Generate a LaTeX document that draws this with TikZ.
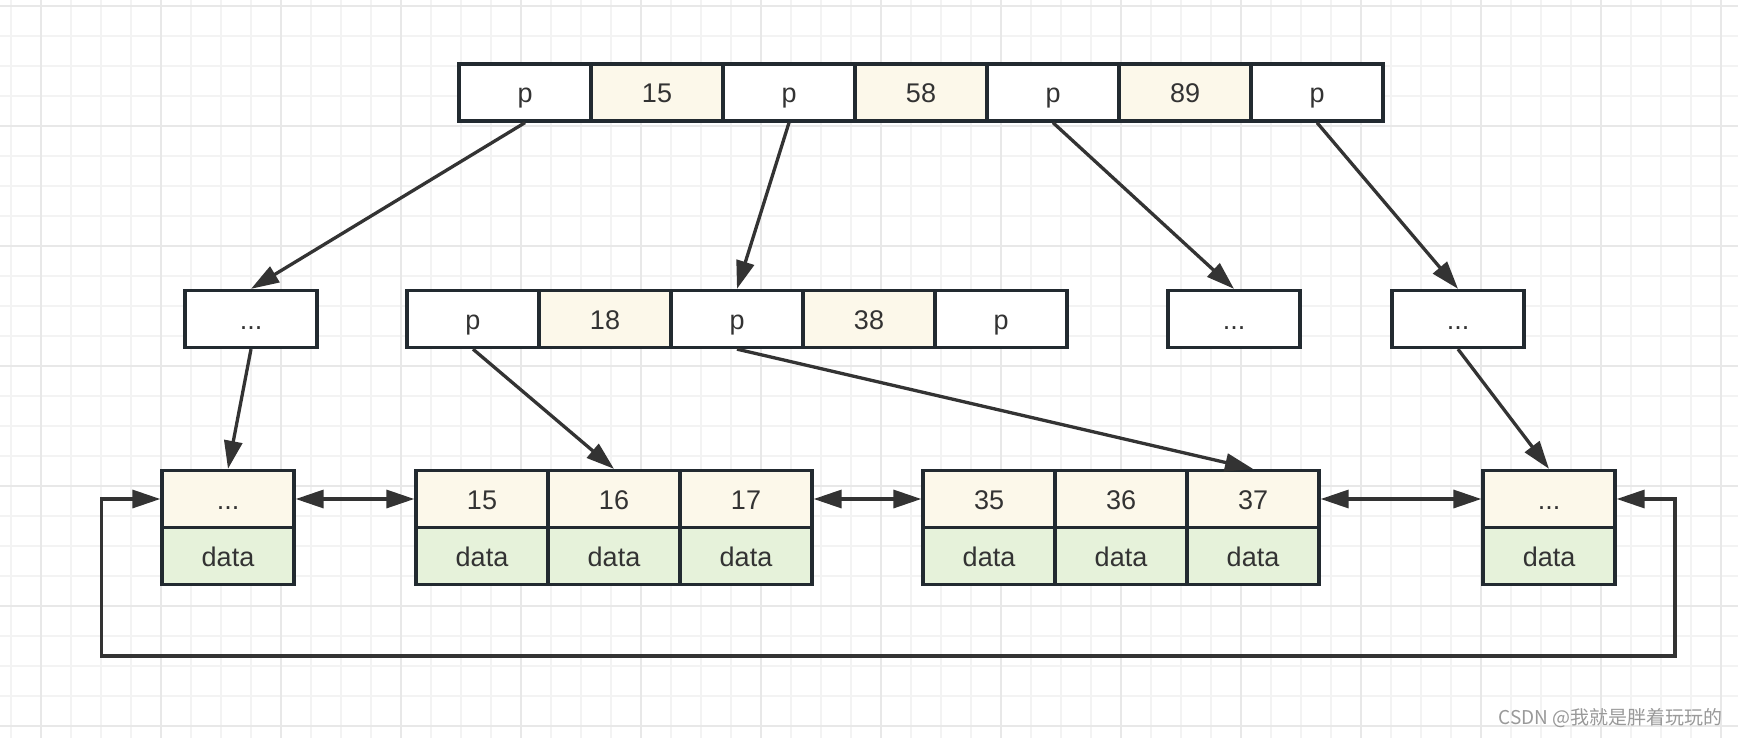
\documentclass[tikz,border=0pt]{standalone}
\usepackage{fontspec}
\setmainfont{Liberation Sans}
\newfontfamily\cjkfont{Noto Sans CJK SC}
\usetikzlibrary{arrows.meta}
\definecolor{bordc}{HTML}{222A30}
\definecolor{linec}{HTML}{333333}
\definecolor{keyfill}{HTML}{FCF8EA}
\definecolor{datafill}{HTML}{E6F2DA}
\definecolor{gridminor}{HTML}{F3F3F3}
\definecolor{gridmajor}{HTML}{E8E8E8}
\definecolor{txtc}{HTML}{333333}
\definecolor{wmc}{HTML}{999999}
\begin{document}
\begin{tikzpicture}[x=0.5pt,y=-0.5pt,
  cell/.style={draw=bordc, line width=1.65pt, minimum width=66pt, minimum height=28.5pt,
    inner sep=0pt, text=txtc, font=\fontsize{13.5}{15}\selectfont,
    text height=12pt, text depth=1.5pt},
  ptr/.style={cell, fill=white},
  key/.style={cell, fill=keyfill},
  dat/.style={cell, fill=datafill},
  tip/.tip={Triangle[length=14pt,width=9pt]},
  link/.style={draw=linec, line width=1.65pt, -tip},
  dlink/.style={draw=linec, line width=1.65pt, tip-tip},
  gridmin/.style={draw=gridminor, line width=1pt},
  gridmaj/.style={draw=gridmajor, line width=1pt},
]
\useasboundingbox (0,0) rectangle (1738,738);
\fill[white] (0,0) rectangle (1738,738);
% grid
\foreach \x in {11,41,...,1738} \draw[gridmin] (\x,0) -- (\x,738);
\foreach \y in {6,36,...,738} \draw[gridmin] (0,\y) -- (1738,\y);
\foreach \x in {41,161,...,1738} \draw[gridmaj] (\x,0) -- (\x,738);
\foreach \y in {6,126,...,738} \draw[gridmaj] (0,\y) -- (1738,\y);

% top row
\node[ptr] (t1) at (525,92.5) {p};
\node[key] (t2) at (657,92.5) {15};
\node[ptr] (t3) at (789,92.5) {p};
\node[key] (t4) at (921,92.5) {58};
\node[ptr] (t5) at (1053,92.5) {p};
\node[key] (t6) at (1185,92.5) {89};
\node[ptr] (t7) at (1317,92.5) {p};

% middle row
\node[ptr] (ml) at (251,319) {...};
\node[ptr] (m1) at (473,319) {p};
\node[key] (m2) at (605,319) {18};
\node[ptr] (m3) at (737,319) {p};
\node[key] (m4) at (869,319) {38};
\node[ptr] (m5) at (1001,319) {p};
\node[ptr] (mr1) at (1234,319) {...};
\node[ptr] (mr2) at (1458,319) {...};

% leaves
\node[key] (lk) at (228,499) {...};
\node[dat] (ld) at (228,556) {data};
\node[key] (a1) at (482,499) {15};
\node[key] (a2) at (614,499) {16};
\node[key] (a3) at (746,499) {17};
\node[dat] (ad1) at (482,556) {data};
\node[dat] (ad2) at (614,556) {data};
\node[dat] (ad3) at (746,556) {data};
\node[key] (b1) at (989,499) {35};
\node[key] (b2) at (1121,499) {36};
\node[key] (b3) at (1253,499) {37};
\node[dat] (bd1) at (989,556) {data};
\node[dat] (bd2) at (1121,556) {data};
\node[dat] (bd3) at (1253,556) {data};
\node[key] (rk) at (1549,499) {...};
\node[dat] (rd) at (1549,556) {data};

% pointers
\draw[link] (t1.south) -- (ml.north);
\draw[link] (t3.south) -- (m3.north);
\draw[link] (t5.south) -- (mr1.north);
\draw[link] (t7.south) -- (mr2.north);
\draw[link] (ml.south) -- (lk.north);
\draw[link] (m1.south) -- (a2.north);
\draw[link] (m3.south) -- (b3.north);
\draw[link] (mr2.south) -- (rk.north);

% leaf links
\draw[dlink] (lk.east) -- (a1.west);
\draw[dlink] (a3.east) -- (b1.west);
\draw[dlink] (b3.east) -- (rk.west);
\coordinate (c1) at (101.7,656);
\coordinate (c2) at (1675,656);
\draw[dlink] (lk.west) -| (c1) -| (c2) |- (rk.east);

% watermark
\node[anchor=east, text=wmc, inner sep=0pt, font=\cjkfont\fontsize{9.5}{11}\selectfont] (wm) at (1723,718) {CSDN @我就是胖着玩玩的};
\end{tikzpicture}
\end{document}
